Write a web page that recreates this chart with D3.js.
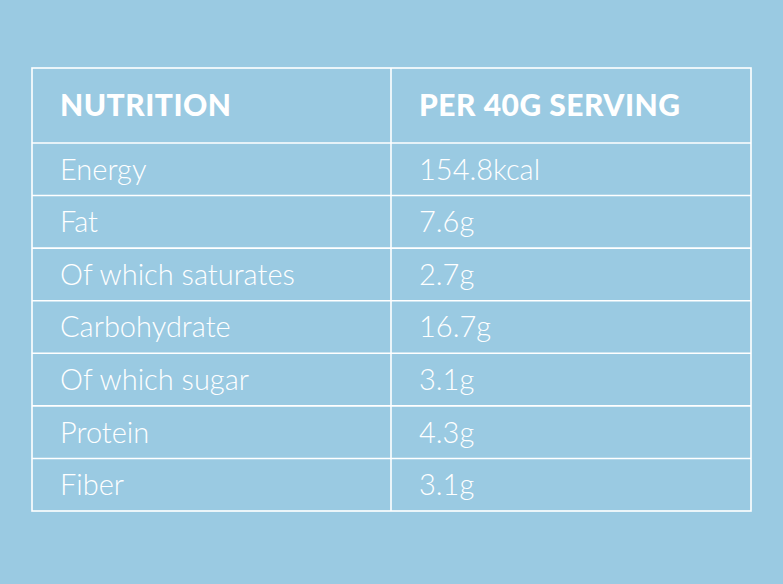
<!DOCTYPE html>
<html>
<head>
<meta charset="utf-8">
<script src="https://cdn.jsdelivr.net/npm/d3@7"></script>
<style>
  html, body { margin: 0; padding: 0; background: #9acae2; }
</style>
</head>
<body>
<svg id="chart" width="783" height="584"></svg>
<script>
// Table content
const headers = ["NUTRITION", "PER 40G SERVING"];
const nutrients = ["Energy", "Fat", "Of which saturates", "Carbohydrate", "Of which sugar", "Protein", "Fiber"];
const amounts = ["154.8kcal", "7.6g", "2.7g", "16.7g", "3.1g", "4.3g", "3.1g"];

const svg = d3.select("#chart");
const tLeft = 32, tRight = 751, tTop = 68, headerH = 75, tBottom = 511;
const colX = d3.scalePoint().domain([0, 1]).range([tLeft, 391]);

// Row scale for body rows
const y = d3.scaleBand()
    .domain(d3.range(nutrients.length))
    .range([tTop + headerH, tBottom])
    .padding(0);

svg.append("rect")
    .attr("width", 783).attr("height", 584)
    .attr("fill", "#9acae2");

const g = svg.append("g");

// Outer border
g.append("rect")
    .attr("x", tLeft).attr("y", tTop)
    .attr("width", tRight - tLeft).attr("height", tBottom - tTop)
    .attr("fill", "none")
    .attr("stroke", "#fff")
    .attr("stroke-width", 1.6);

// Column divider
g.append("line")
    .attr("x1", colX(1)).attr("x2", colX(1))
    .attr("y1", tTop).attr("y2", tBottom)
    .attr("stroke", "#fff").attr("stroke-width", 1.6);

// Row lines
g.selectAll("line.row")
    .data(d3.range(nutrients.length))
    .join("line")
        .classed("row", true)
        .attr("x1", tLeft).attr("x2", tRight)
        .attr("y1", d => y(d)).attr("y2", d => y(d))
        .attr("stroke", "#fff").attr("stroke-width", 1.6);

// Header
g.selectAll("text.head")
    .data(headers)
    .join("text")
        .classed("head", true)
        .attr("x", (d, i) => colX(i) + 28)
        .attr("y", tTop + headerH / 2)
        .attr("dy", "0.36em")
        .attr("fill", "#fff")
        .attr("font-family", "Lato, sans-serif")
        .attr("font-weight", 900)
        .attr("font-size", 30)
        .attr("letter-spacing", "0.5px")
        .text(d => d);

// Body cells
[nutrients, amounts].forEach((col, ci) => {
    g.selectAll(`text.c${ci}`)
        .data(col)
        .join("text")
            .attr("class", `c${ci}`)
            .attr("x", colX(ci) + 28)
            .attr("y", (d, i) => y(i) + y.bandwidth() / 2)
            .attr("dy", "0.36em")
            .attr("fill", "#fff")
            .attr("font-family", "Lato, sans-serif")
            .attr("font-weight", 300)
            .attr("font-size", 29)
            .text(d => d);
});
</script>
</body>
</html>
